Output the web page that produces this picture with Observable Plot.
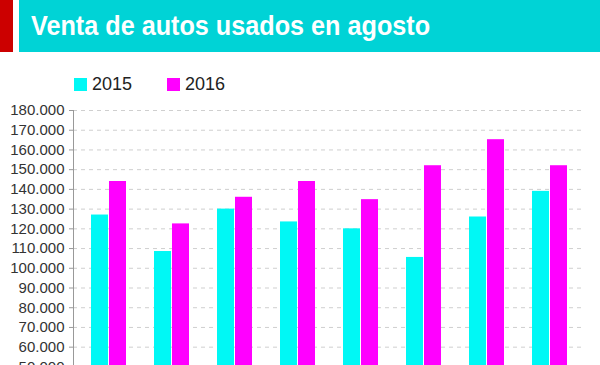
<!DOCTYPE html>
<html>
<head>
<meta charset="utf-8">
<script src="https://cdn.jsdelivr.net/npm/d3@7"></script>
<script src="https://cdn.jsdelivr.net/npm/@observablehq/plot@0.6"></script>
<style>
  html, body { margin: 0; padding: 0; background: #fff; width: 600px; height: 365px; overflow: hidden; font-family: "Liberation Sans", Arial, Helvetica, sans-serif; }
  #red { position: absolute; left: 0; top: 0; width: 13px; height: 52px; background: #cc0000; }
  #bar { position: absolute; left: 19px; top: 0; width: 581px; height: 52px; background: #00d3d6; }
  #title { position: absolute; left: 31px; top: 9px; color: #fff; font-weight: bold; font-size: 28px; line-height: 34px; white-space: nowrap; transform: scaleX(0.9); transform-origin: 0 0; }
  .sw { position: absolute; width: 13px; height: 13px; top: 78px; }
  .lt { position: absolute; top: 74px; font-size: 18px; line-height: 20px; color: #222; }
  #chart { position: absolute; left: 0; top: 95px; }
</style>
</head>
<body>
<div id="red"></div>
<div id="bar"></div>
<div id="title">Venta de autos usados en agosto</div>
<div class="sw" style="left:74px;background:#00f8f5"></div>
<div class="lt" style="left:92px">2015</div>
<div class="sw" style="left:167px;background:#ff00ff"></div>
<div class="lt" style="left:185px">2016</div>
<div id="chart"></div>
<script>
const categories = ["1", "2", "3", "4", "5", "6", "7", "8"];
const values2015 = [127000, 108500, 130000, 123500, 120000, 105500, 126000, 139000];
const values2016 = [144000, 122500, 136000, 144000, 134800, 152000, 165200, 152000];
const yTicks = [0, 10000, 20000, 30000, 40000, 50000, 60000, 70000, 80000, 90000, 100000, 110000, 120000, 130000, 140000, 150000, 160000, 170000, 180000];

const d2015 = categories.map((c, i) => ({cat: c, v: values2015[i]}));
const d2016 = categories.map((c, i) => ({cat: c, v: values2016[i]}));

const fmt = d => d3.format(",")(d).replace(/,/g, ".");
const step = (600 - 73 - 16) / (8 - 0.45 + 2 * 0.24);
const bw = step * 0.55;

const chart = Plot.plot({
  width: 600,
  height: 390,
  marginTop: 15,
  marginBottom: 20,
  marginLeft: 73,
  marginRight: 16,
  style: {fontFamily: "'Liberation Sans', Arial, Helvetica, sans-serif", fontSize: "15px", color: "#333", background: "transparent"},
  x: {domain: categories, paddingInner: 0.45, paddingOuter: 0.24, axis: null},
  y: {domain: [0, 180000], axis: null},
  marks: [
    Plot.gridY(yTicks, {stroke: "#cfcfcf", strokeOpacity: 1, strokeDasharray: "4,4"}),
    Plot.barY(d2015, {x: "cat", y: "v", fill: "#00f8f5", insetRight: bw / 2 + 0.5}),
    Plot.barY(d2016, {x: "cat", y: "v", fill: "#ff00ff", insetLeft: bw / 2 + 0.5}),
    Plot.axisY(yTicks, {tickFormat: fmt, tickSize: 4, tickPadding: 5, stroke: "#999", fill: "#333", fontSize: 15, label: null}),
    Plot.frame({anchor: "left", stroke: "#999"})
  ]
});
document.getElementById("chart").appendChild(chart);
</script>
</body>
</html>
